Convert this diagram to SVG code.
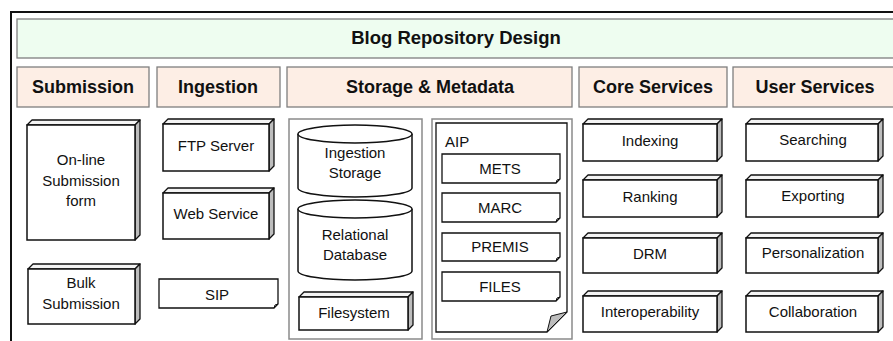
<svg xmlns="http://www.w3.org/2000/svg" width="893" height="341" viewBox="0 0 893 341">
<style>
text{font-family:"Liberation Sans",Arial,sans-serif;fill:#111;text-anchor:middle}
.hdr{font-size:18px;font-weight:bold}
.ttl{font-size:18.5px;font-weight:bold}
.lbl{font-size:15px}
.hbox{fill:#fdeee5;stroke:#7f7f7f;stroke-width:1.3}
.front{fill:#fff;stroke:#111;stroke-width:1.5}
.top{fill:#f4f4f4;stroke:#111;stroke-width:1.3;stroke-linejoin:round}
.side{fill:#bdbdbd;stroke:#111;stroke-width:1.3;stroke-linejoin:round}
.note{fill:#fff;stroke:#111;stroke-width:1.3}
.fold{fill:#bdbdbd;stroke:#111;stroke-width:1}
.cont{fill:#fff;stroke:#8a8a8a;stroke-width:1.5}
.cyl{fill:#fff;stroke:#111;stroke-width:1.5}
</style>
<rect x="0" y="0" width="893" height="341" fill="#fff"/>
<rect x="11" y="12" width="1100" height="400" fill="#fff" stroke="#111" stroke-width="2"/>

<g id="title">
<rect x="17" y="19" width="1000" height="39" fill="#eefdf0" stroke="#7f7f7f" stroke-width="1.3"/>
<text class="ttl" x="456" y="44">Blog Repository Design</text>
</g>

<g id="hdr-submission"><rect class="hbox" x="17" y="67" width="132" height="40"/><text class="hdr" x="83" y="93">Submission</text></g>
<g id="hdr-ingestion"><rect class="hbox" x="157" y="67" width="123" height="40"/><text class="hdr" x="218" y="93">Ingestion</text></g>
<g id="hdr-storage"><rect class="hbox" x="287" y="67" width="285" height="40"/><text class="hdr" x="430" y="93">Storage &amp; Metadata</text></g>
<g id="hdr-core"><rect class="hbox" x="579" y="67" width="148" height="40"/><text class="hdr" x="653" y="93">Core Services</text></g>
<g id="hdr-user"><rect class="hbox" x="733" y="67" width="300" height="40"/><text class="hdr" x="815" y="93">User Services</text></g>

<!-- Submission -->
<g id="online-form">
<polygon class="top" points="27,125 32,120 140,120 135,125"/>
<polygon class="side" points="135,125 140,120 140,235 135,240"/>
<rect class="front" x="27" y="125" width="108" height="115"/>
<text class="lbl" x="81" y="165">On-line</text>
<text class="lbl" x="81" y="186">Submission</text>
<text class="lbl" x="81" y="206">form</text>
</g>
<g id="bulk-submission">
<polygon class="top" points="28,269 33,264 140,264 135,269"/>
<polygon class="side" points="135,269 140,264 140,319 135,324"/>
<rect class="front" x="28" y="269" width="107" height="55"/>
<text class="lbl" x="81" y="288">Bulk</text>
<text class="lbl" x="81" y="309">Submission</text>
</g>

<!-- Ingestion -->
<g id="ftp-server">
<polygon class="top" points="163,124 168,119 274,119 269,124"/>
<polygon class="side" points="269,124 274,119 274,166 269,171"/>
<rect class="front" x="163" y="124" width="106" height="47"/>
<text class="lbl" x="216" y="151">FTP Server</text>
</g>
<g id="web-service">
<polygon class="top" points="163,193 168,188 274,188 269,193"/>
<polygon class="side" points="269,193 274,188 274,234 269,239"/>
<rect class="front" x="163" y="193" width="106" height="46"/>
<text class="lbl" x="216" y="219">Web Service</text>
</g>
<g id="sip">
<path class="note" d="M159,279 H278 V304 L274,308 H159 Z"/>
<path class="fold" d="M274,308 L275,305 L278,304 Z"/>
<text class="lbl" x="217" y="300">SIP</text>
</g>

<!-- Storage & Metadata -->
<g id="storage-container">
<rect class="cont" x="289" y="119" width="133" height="220"/>
</g>
<g id="ingestion-storage">
<path class="cyl" d="M298,134 A57,9 0 0 1 412,134 V188 A57,9 0 0 1 298,188 Z"/>
<path class="cyl" fill="none" d="M298,134 A57,9 0 0 0 412,134"/>
<text class="lbl" x="355" y="158">Ingestion</text>
<text class="lbl" x="355" y="178">Storage</text>
</g>
<g id="relational-database">
<path class="cyl" d="M298,209 A57,9 0 0 1 412,209 V271 A57,9 0 0 1 298,271 Z"/>
<path class="cyl" fill="none" d="M298,209 A57,9 0 0 0 412,209"/>
<text class="lbl" x="355" y="240">Relational</text>
<text class="lbl" x="355" y="260">Database</text>
</g>
<g id="filesystem">
<polygon class="top" points="299,297 304,292 413,292 408,297"/>
<polygon class="side" points="408,297 413,292 413,325 408,330"/>
<rect class="front" x="299" y="297" width="109" height="33"/>
<text class="lbl" x="354" y="318">Filesystem</text>
</g>

<g id="aip">
<rect class="cont" x="432" y="119" width="140" height="220"/>
<path class="note" stroke-width="1.5" d="M436,123 H567 V312 L547,332 H436 Z"/>
<path class="fold" d="M547,332 L551,316 L567,312 Z"/>
<text class="lbl" x="445" y="147" style="text-anchor:start">AIP</text>
</g>
<g id="mets">
<path class="note" d="M442,154 H560 V179 L556,183 H442 Z"/>
<path class="fold" d="M556,183 L557,180 L560,179 Z"/>
<text class="lbl" x="500" y="174">METS</text>
</g>
<g id="marc">
<path class="note" d="M442,193 H560 V218 L556,222 H442 Z"/>
<path class="fold" d="M556,222 L557,219 L560,218 Z"/>
<text class="lbl" x="500" y="213">MARC</text>
</g>
<g id="premis">
<path class="note" d="M442,233 H560 V257 L556,261 H442 Z"/>
<path class="fold" d="M556,261 L557,258 L560,257 Z"/>
<text class="lbl" x="500" y="252">PREMIS</text>
</g>
<g id="files">
<path class="note" d="M442,272 H560 V297 L556,301 H442 Z"/>
<path class="fold" d="M556,301 L557,298 L560,297 Z"/>
<text class="lbl" x="500" y="292">FILES</text>
</g>

<!-- Core Services -->
<g id="indexing">
<polygon class="top" points="583,124 588,119 722,119 717,124"/>
<polygon class="side" points="717,124 722,119 722,156 717,161"/>
<rect class="front" x="583" y="124" width="134" height="37"/>
<text class="lbl" x="650" y="146">Indexing</text>
</g>
<g id="ranking">
<polygon class="top" points="583,180 588,175 722,175 717,180"/>
<polygon class="side" points="717,180 722,175 722,212 717,217"/>
<rect class="front" x="583" y="180" width="134" height="37"/>
<text class="lbl" x="650" y="202">Ranking</text>
</g>
<g id="drm">
<polygon class="top" points="583,238 588,233 722,233 717,238"/>
<polygon class="side" points="717,238 722,233 722,268 717,273"/>
<rect class="front" x="583" y="238" width="134" height="35"/>
<text class="lbl" x="650" y="259">DRM</text>
</g>
<g id="interoperability">
<polygon class="top" points="583,296 588,291 722,291 717,296"/>
<polygon class="side" points="717,296 722,291 722,327 717,332"/>
<rect class="front" x="583" y="296" width="134" height="36"/>
<text class="lbl" x="650" y="317">Interoperability</text>
</g>

<!-- User Services -->
<g id="searching">
<polygon class="top" points="746,124 751,119 883,119 878,124"/>
<polygon class="side" points="878,124 883,119 883,156 878,161"/>
<rect class="front" x="746" y="124" width="132" height="37"/>
<text class="lbl" x="813" y="145">Searching</text>
</g>
<g id="exporting">
<polygon class="top" points="746,180 751,175 883,175 878,180"/>
<polygon class="side" points="878,180 883,175 883,212 878,217"/>
<rect class="front" x="746" y="180" width="132" height="37"/>
<text class="lbl" x="813" y="201">Exporting</text>
</g>
<g id="personalization">
<polygon class="top" points="746,238 751,233 883,233 878,238"/>
<polygon class="side" points="878,238 883,233 883,268 878,273"/>
<rect class="front" x="746" y="238" width="132" height="35"/>
<text class="lbl" x="813" y="258">Personalization</text>
</g>
<g id="collaboration">
<polygon class="top" points="746,296 751,291 883,291 878,296"/>
<polygon class="side" points="878,296 883,291 883,327 878,332"/>
<rect class="front" x="746" y="296" width="132" height="36"/>
<text class="lbl" x="813" y="317">Collaboration</text>
</g>

<g id="connectors"></g>
</svg>
